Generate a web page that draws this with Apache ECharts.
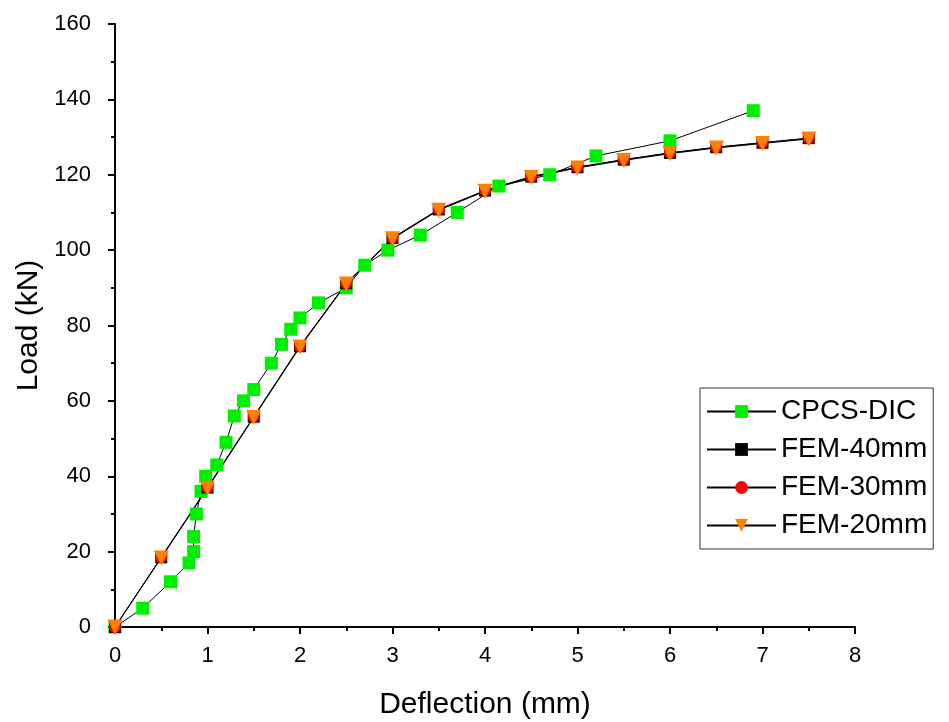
<!DOCTYPE html>
<html>
<head>
<meta charset="utf-8">
<script src="https://cdn.jsdelivr.net/npm/echarts@6/dist/echarts.min.js"></script>
<style>
html, body { margin: 0; padding: 0; background: #fff; }
#chart { width: 949px; height: 722px; }
</style>
</head>
<body>
<div id="chart"></div>
<script>
// CPCS-DIC test points (deflection mm, load kN)
let dicX = [0, 0.3, 0.6, 0.8, 0.85, 0.85, 0.88, 0.93, 0.98, 1.1, 1.2, 1.29, 1.39, 1.5, 1.69, 1.8, 1.9, 2.0, 2.2, 2.5, 2.7, 2.95, 3.3, 3.7, 4.15, 4.7, 5.2, 6.0, 6.9];
let dicY = [0, 5, 12, 17, 20, 24, 30, 36, 40, 43, 49, 56, 60, 63, 70, 75, 79, 82, 86, 90, 96, 100, 104, 110, 117, 120, 125, 129, 137];

// FEM results
let femX = [0, 0.5, 1, 1.5, 2, 2.5, 3, 3.5, 4, 4.5, 5, 5.5, 6, 6.5, 7, 7.5];
let fem40 = [0, 18.5, 37, 55.8, 74.5, 91.2, 103.2, 110.8, 115.8, 119.5, 122, 124, 125.8, 127.3, 128.5, 129.7];
let fem30 = [0, 18.5, 37, 55.8, 74.5, 91.2, 103.2, 110.8, 115.8, 119.5, 122, 124, 125.8, 127.3, 128.5, 129.7];
let fem20 = [0, 18.3, 36.8, 55.6, 74.3, 91, 103, 110.6, 115.6, 119.3, 121.8, 123.8, 125.6, 127.1, 128.3, 129.5];

let xTicks = [0, 1, 2, 3, 4, 5, 6, 7, 8];
let yTicks = [0, 20, 40, 60, 80, 100, 120, 140, 160];

function pairs(xs, ys) {
    return xs.map((x, i) => [x, ys[i]]);
}

let myChart = echarts.init(document.getElementById('chart'));

let lineStyle = { color: '#000', width: 1 };
let font = 'Liberation Sans, Arial, sans-serif';

function mkSeries(name, data, symbol, size, color) {
    return {
        name: name,
        type: 'line',
        data: data,
        symbol: symbol,
        symbolSize: size,
        showAllSymbol: true,
        lineStyle: lineStyle,
        itemStyle: { color: color, borderWidth: 0 },
        emphasis: { disabled: true },
        animation: false
    };
}

let option = {
    backgroundColor: '#fff',
    animation: false,
    textStyle: { fontFamily: font },
    grid: { left: 115, right: 94, top: 24, bottom: 95, outerBoundsMode: 'none' },
    legend: {
        orient: 'vertical',
        left: 700,
        top: 388,
        padding: [9, 6, 9, 6],
        itemGap: 9,
        itemWidth: 69,
        itemHeight: 16,
        borderColor: '#333',
        borderWidth: 1,
        textStyle: { fontSize: 28, lineHeight: 29, color: '#000', fontFamily: font },
        data: ['CPCS-DIC', 'FEM-40mm', 'FEM-30mm', 'FEM-20mm']
    },
    xAxis: {
        type: 'value',
        min: 0, max: 8, interval: 1,
        name: 'Deflection (mm)',
        nameLocation: 'middle',
        nameGap: 63,
        nameTextStyle: { fontSize: 30, color: '#000' },
        splitLine: { show: false },
        axisLine: { lineStyle: { color: '#000', width: 2 } },
        axisTick: { inside: false, length: 7, lineStyle: { width: 2, color: '#000' } },
        minorTick: { show: true, splitNumber: 2, length: 4, lineStyle: { width: 2, color: '#000' } },
        axisLabel: { fontSize: 22, color: '#000', margin: 18 }
    },
    yAxis: {
        type: 'value',
        min: 0, max: 160, interval: 20,
        name: 'Load (kN)',
        nameLocation: 'middle',
        nameGap: 70,
        nameTextStyle: { fontSize: 30, color: '#000' },
        splitLine: { show: false },
        axisLine: { lineStyle: { color: '#000', width: 2 } },
        axisTick: { inside: false, length: 7, lineStyle: { width: 2, color: '#000' } },
        minorTick: { show: true, splitNumber: 2, length: 4, lineStyle: { width: 2, color: '#000' } },
        axisLabel: { fontSize: 22, color: '#000', margin: 24 }
    },
    series: [
        mkSeries('CPCS-DIC', pairs(dicX, dicY), 'rect', 13, '#00ee00'),
        mkSeries('FEM-40mm', pairs(femX, fem40), 'rect', 12, '#000000'),
        mkSeries('FEM-30mm', pairs(femX, fem30), 'circle', 12, '#ff0000'),
        mkSeries('FEM-20mm', pairs(femX, fem20), 'triangle', 15, '#ff7f00')
    ]
};

// orange markers point downward
option.series[3].symbolRotate = 180;

myChart.setOption(option);
</script>
</body>
</html>
